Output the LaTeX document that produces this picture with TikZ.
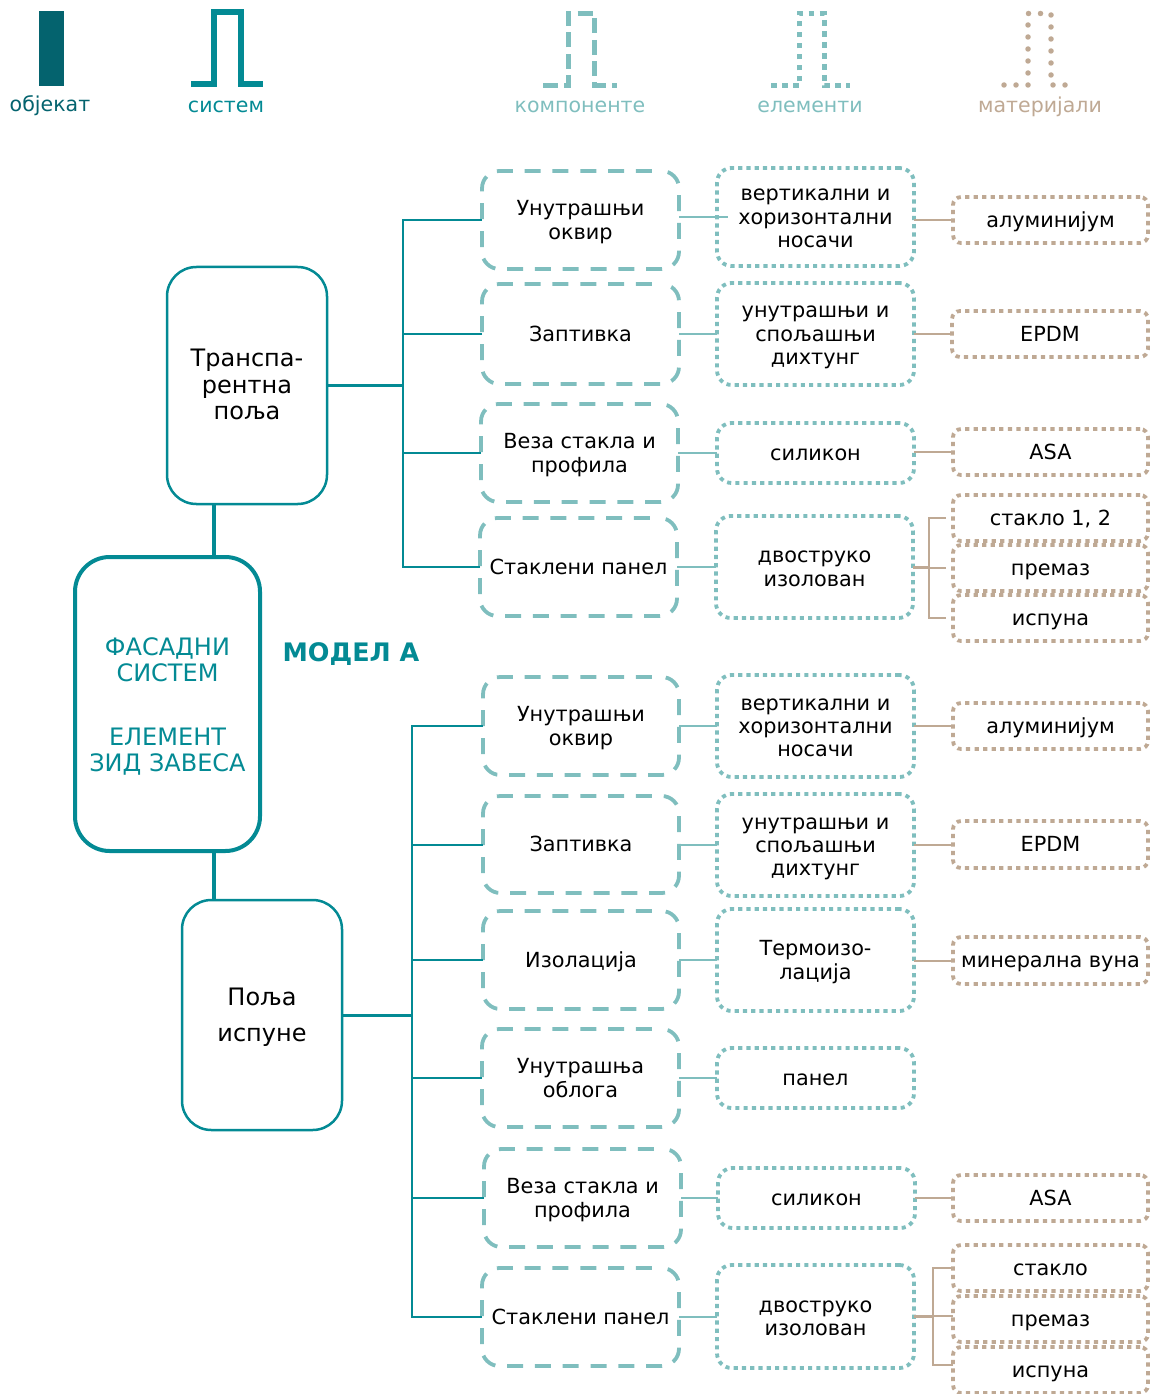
\documentclass[tikz,border=0pt]{standalone}
\usepackage{fontspec}
\setmainfont{DejaVu Sans}
\definecolor{objc}{HTML}{04636E}
\definecolor{sysc}{HTML}{038A94}
\definecolor{compc}{HTML}{7FBEBE}
\definecolor{matc}{HTML}{BFA994}
\newcommand\bx[6]{\node[#1,minimum width={(#5-#3)*0.75pt},minimum height={(#6-#4)*0.75pt}] (#2) at ({(#3+#5)/2},{(#4+#6)/2})}
\newcommand\fl{\rule{0pt}{14.7pt}}
\tikzset{
  px/.style={line width=#1*0.75pt},
  anybox/.style={align=center,inner sep=0pt,outer sep=0pt,text=black,font=\fontsize{15.6}{17.6}\selectfont},
  smalltext/.style={execute at begin node={\rule{0pt}{14.7pt}},execute at end node={\rule[-3.5pt]{0pt}{0pt}}},
  compbox/.style={anybox,smalltext,draw=compc,px=3.8,rounded corners=13pt,dash pattern=on 12pt off 8.85pt,dash phase=13.5pt},
  elembox/.style={anybox,smalltext,draw=compc,px=3.8,rounded corners=11pt,dash pattern=on 3.1pt off 3.1pt},
  matbox/.style={anybox,smalltext,draw=matc,px=3.8,rounded corners=6pt,dash pattern=on 3.2pt off 3.2pt},
  sysbox/.style={anybox,draw=sysc,px=2.5,rounded corners=22pt,font=\fontsize{18}{19.8}\selectfont},
  mainbox/.style={anybox,draw=sysc,px=4,rounded corners=26pt,text=sysc,font=\fontsize{18}{19.5}\selectfont},
  legend/.style={anchor=center,font=\fontsize{15.4}{17.6}\selectfont},
  syslink/.style={draw=sysc,px=2},
  systhick/.style={draw=sysc,px=3},
  mainlink/.style={draw=sysc,px=4},
  complink/.style={draw=compc,px=2},
  matlink/.style={draw=matc,px=2},
}
\begin{document}
\begin{tikzpicture}[x=0.75pt,y=-0.75pt]
\useasboundingbox (0,0) rectangle (1150,1394);
% legend
\fill[objc] (39,11) rectangle (64,86);
\draw[sysc,px=6] (191,84) -- (214,84) -- (214,12) -- (241,12) -- (241,84) -- (263,84);
\draw[compc,px=5,dash pattern=on 11.25pt off 4.75pt] (543,86) -- (568.5,86) -- (568.5,14) -- (594.5,14) -- (594.5,86) -- (617,86);
\draw[compc,px=5,dash pattern=on 4.2pt off 4.05pt] (771,86) -- (799.5,86) -- (799.5,13.5) -- (824,13.5) -- (824,86) -- (850,86);
\draw[matc,px=5.5,line cap=round,dash pattern=on 0pt off 9pt] (1004,85) -- (1028,85) -- (1028,13.5) -- (1051,13.5) -- (1051,85) -- (1067,85);
\node[legend,text=objc] (l1) at (50,106) {објекат};
\node[legend,text=sysc] (l2) at (226,107) {систем};
\node[legend,text=compc] (l3) at (580,107) {компоненте};
\node[legend,text=compc] (l4) at (810,107) {елементи};
\node[legend,text=matc] (l5) at (1040,107) {материјали};
% main
\bx{mainbox}{fs}{75}{557}{260}{851} {\rule{0pt}{17pt}ФАСАДНИ\\СИСТЕМ\\[28pt]ЕЛЕМЕНТ\\ЗИД ЗАВЕСА};
\bx{sysbox}{tp}{167}{267}{327}{504} {Транспа-\\рентна\\поља\rule[-1.5pt]{0pt}{0pt}};
\bx{sysbox}{pi}{182}{900}{342}{1130} {\rule{0pt}{17pt}Поља\\[7.2pt]испуне};
\node[text=sysc,font=\bfseries\fontsize{19.1}{22}\selectfont] (model) at (351,654.5) {МОДЕЛ А};
% top components
\bx{compbox}{c1}{482}{171}{679}{269} {\fl Унутрашњи\\оквир};
\bx{compbox}{c2}{482}{284}{679}{384} {Заптивка};
\bx{compbox}{c3}{481}{404}{678}{502} {\fl Веза стакла и\\профила};
\bx{compbox}{c4}{480}{518}{677}{616} {Стаклени панел};
% top elements
\bx{elembox}{e1}{717}{168}{914}{266} {\fl вертикални и\\хоризонтални\\носачи};
\bx{elembox}{e2}{717}{283}{914}{385} {\fl унутрашњи и\\спољашњи\\дихтунг};
\bx{elembox}{e3}{717}{423}{914}{483} {силикон};
\bx{elembox}{e4}{716}{516}{913}{618} {\fl двоструко\\изолован};
% top materials
\bx{matbox}{m1}{953}{197}{1148}{243} {алуминијум};
\bx{matbox}{m2}{952}{311}{1148}{357} {EPDM};
\bx{matbox}{m3}{953}{429}{1148}{475} {ASA};
\bx{matbox}{m4}{953}{495}{1148}{541} {стакло 1, 2};
\bx{matbox}{m5}{953}{545}{1148}{591} {премаз};
\bx{matbox}{m6}{953}{595}{1148}{641} {испуна};
% bottom components
\bx{compbox}{c5}{483}{677}{679}{775} {\fl Унутрашњи\\оквир};
\bx{compbox}{c6}{483}{796}{679}{893} {Заптивка};
\bx{compbox}{c7}{483}{911}{679}{1009} {Изолација};
\bx{compbox}{c8}{482}{1029}{679}{1127} {\fl Унутрашња\\облога};
\bx{compbox}{c9}{484}{1149}{681}{1247} {\fl Веза стакла и\\профила};
\bx{compbox}{c10}{482}{1268}{679}{1366} {Стаклени панел};
% bottom elements
\bx{elembox}{e5}{717}{675}{914}{777} {\fl вертикални и\\хоризонтални\\носачи};
\bx{elembox}{e6}{717}{794}{914}{896} {\fl унутрашњи и\\спољашњи\\дихтунг};
\bx{elembox}{e7}{717}{909}{914}{1011} {\fl Термоизо-\\лација};
\bx{elembox}{e8}{717}{1048}{914}{1108} {панел};
\bx{elembox}{e9}{718}{1168}{915}{1228} {силикон};
\bx{elembox}{e10}{717}{1265}{914}{1368} {\fl двоструко\\изолован};
% bottom materials
\bx{matbox}{m7}{953}{703}{1148}{749} {алуминијум};
\bx{matbox}{m8}{953}{821}{1148}{868} {EPDM};
\bx{matbox}{m9}{953}{937}{1148}{984} {минерална вуна};
\bx{matbox}{m10}{953}{1175}{1148}{1221} {ASA};
\bx{matbox}{m11}{953}{1245}{1148}{1291} {стакло};
\bx{matbox}{m12}{953}{1296}{1148}{1342} {премаз};
\bx{matbox}{m13}{953}{1347}{1148}{1393} {испуна};
% links to main
\coordinate (lk) at (213.5,530);
\draw[mainlink] (lk |- tp.south) -- (lk |- fs.north);
\draw[mainlink] (lk |- fs.south) -- (lk |- pi.north);
% trunks
\coordinate (tt) at (403,385.5);
\coordinate (tb) at (412,1015);
\draw[systhick] (tp.east) -- (tt);
\draw[systhick] (pi.east) -- (tb);
\foreach \c in {c1,c2,c3,c4} \draw[syslink] (\c.west) -| (tt);
\foreach \c in {c5,c6,c7,c8,c9,c10} \draw[syslink] (\c.west) -| (tb);
% component to element
\coordinate (e1in) at (728,217);
\draw[complink] (c1.east |- e1in) -- (e1in);
\foreach \c/\e in {c2/e2,c3/e3,c4/e4,c5/e5,c6/e6,c7/e7,c8/e8,c9/e9,c10/e10}
  \draw[complink] (\c.east) -- (\c.east -| \e.west);
% element to material
\foreach \e/\m in {e1/m1,e2/m2,e3/m3,e5/m7,e6/m8,e7/m9,e9/m10}
  \draw[matlink] (\e.east |- \m.west) -- (\m.west);
% brackets
\coordinate (bt) at (929,567);
\coordinate (bb) at (933,1316.5);
\draw[matlink,px=3] (e4.east) -- (bt);
\draw[matlink,px=3] (e10.east) -- (bb);
\foreach \m in {m4,m5,m6} \draw[matlink] ([xshift=-5.25pt]\m.west) -| (bt);
\draw[matlink] (m11.west) -| (bb);
\draw[matlink] ([yshift=2.25pt]m12.west) -| (bb);
\draw[matlink] ([yshift=3.75pt]m13.west) -| (bb);
\end{tikzpicture}
\end{document}
